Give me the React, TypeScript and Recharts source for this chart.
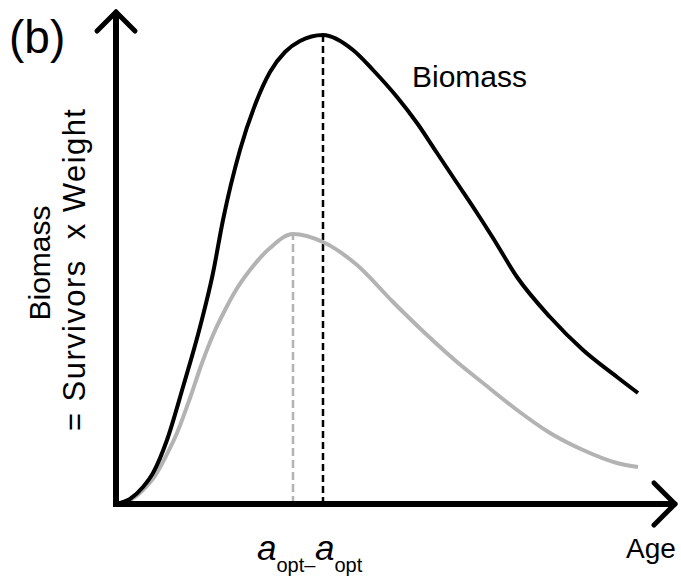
import React from 'react';
import { LineChart, Line, XAxis, YAxis, ReferenceLine } from 'recharts';

// biomass curve (black): age vs biomass
const blackAge = [0, 1.4, 2.7, 3.7, 5.1, 6.7, 8.4, 9.7, 10.7, 12.4, 13.9, 15.4, 16.9, 18.4, 20.7, 23.7, 25.7, 28.1, 30.1, 32.1, 34.1, 36.1, 37.7, 40.1, 43.4, 46.7, 50.1, 52.2];
const blackBio = [0, 0.5, 1.7, 3.1, 6.4, 11.7, 17.7, 23.1, 28.4, 35.4, 39.9, 43.2, 45.2, 46.3, 46.9, 45.4, 43.4, 40.7, 38.1, 35.1, 32.1, 29.1, 26.6, 22.7, 18.7, 15.4, 12.7, 11.1];

// reduced biomass curve (gray)
const grayAge = [0, 1.4, 2.7, 3.9, 5.0, 6.1, 7.4, 8.6, 9.7, 10.8, 12.0, 13.4, 15.4, 17.7, 20.7, 24.1, 27.7, 31.1, 34.1, 36.7, 40.1, 43.4, 46.7, 50.1, 52.2];
const grayBio = [0, 0.4, 1.4, 2.8, 4.8, 7.1, 10.6, 14.1, 16.9, 19.2, 21.4, 23.4, 25.6, 27.0, 26.2, 23.9, 20.2, 16.9, 14.2, 12.1, 9.4, 7.1, 5.4, 4.1, 3.7];

const aOpt = 20.7;
const aOptPeak = 46.9;
const aOptMinus = 17.7;
const aOptMinusPeak = 27.0;

const blackData = blackAge.map((a, i) => ({ age: a, bio: blackBio[i] }));
const grayData = grayAge.map((a, i) => ({ age: a, bio: grayBio[i] }));

const GRAY = '#b3b3b3';
const FONT = '"Liberation Sans", Arial, sans-serif';

const App: React.FC = () => {
  return (
    <div style={{ position: 'absolute', left: 0, top: 0, width: 681, height: 578, background: '#fff' }}>
      <LineChart width={681} height={578} margin={{ top: 9, right: 5, bottom: 44, left: 76 }}>
        <XAxis type="number" dataKey="age" domain={[-4, 56]} hide allowDataOverflow />
        <YAxis type="number" dataKey="bio" domain={[-3, 49.5]} hide allowDataOverflow />
        <ReferenceLine segment={[{ x: aOptMinus, y: 0 }, { x: aOptMinus, y: aOptMinusPeak }]} stroke={GRAY} strokeWidth={2.5} strokeDasharray="8 4" />
        <ReferenceLine segment={[{ x: aOpt, y: 0 }, { x: aOpt, y: aOptPeak }]} stroke="#000" strokeWidth={2.5} strokeDasharray="7 4" />
        <Line data={grayData} dataKey="bio" type="monotone" stroke={GRAY} strokeWidth={4} dot={false} isAnimationActive={false} />
        <Line data={blackData} dataKey="bio" type="monotone" stroke="#000" strokeWidth={4} dot={false} isAnimationActive={false} />
        {/* axes with arrow heads */}
        <ReferenceLine segment={[{ x: 0, y: -0.3 }, { x: 0, y: 49.1 }]} stroke="#000" strokeWidth={6} />
        <ReferenceLine segment={[{ x: -0.3, y: 0 }, { x: 55.8, y: 0 }]} stroke="#000" strokeWidth={6} />
        <ReferenceLine segment={[{ x: -1.9, y: 47.3 }, { x: 0, y: 49.2 }]} stroke="#000" strokeWidth={5} strokeLinecap="round" />
        <ReferenceLine segment={[{ x: 0, y: 49.2 }, { x: 1.9, y: 47.3 }]} stroke="#000" strokeWidth={5} strokeLinecap="round" />
        <ReferenceLine segment={[{ x: 53.8, y: 2.1 }, { x: 55.9, y: 0 }]} stroke="#000" strokeWidth={5} strokeLinecap="round" />
        <ReferenceLine segment={[{ x: 55.9, y: 0 }, { x: 53.8, y: -2.1 }]} stroke="#000" strokeWidth={5} strokeLinecap="round" />
      </LineChart>
      <svg width={681} height={578} style={{ position: 'absolute', left: 0, top: 0, pointerEvents: 'none' }} fontFamily={FONT} fill="#000">
        <text x={9} y={53} fontSize={46}>(b)</text>
        <text x={412} y={87} fontSize={30}>Biomass</text>
        <text x={626} y={558} fontSize={28}>Age</text>
        <text transform="translate(50,263) rotate(-90)" textAnchor="middle" fontSize={30}>Biomass</text>
        <text transform="translate(85,270) rotate(-90)" textAnchor="middle" fontSize={31} textLength={322} lengthAdjust="spacing" style={{ whiteSpace: 'pre' }}>= Survivors  x Weight</text>
        <text x={257} y={560}>
          <tspan fontSize={35} fontStyle="italic">a</tspan>
          <tspan fontSize={20} dy={12}>opt–</tspan>
        </text>
        <text x={315} y={560}>
          <tspan fontSize={35} fontStyle="italic">a</tspan>
          <tspan fontSize={20} dy={12}>opt</tspan>
        </text>
      </svg>
    </div>
  );
};

export default App;
